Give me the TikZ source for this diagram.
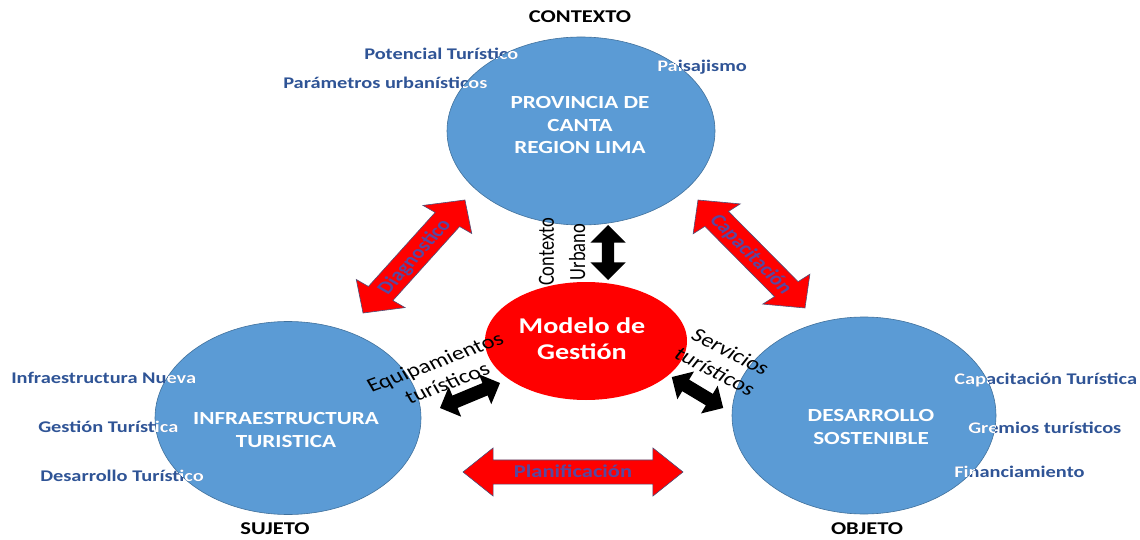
\documentclass[tikz,border=0pt]{standalone}
\usepackage{fontspec}
\setmainfont{Carlito}
\usetikzlibrary{shapes.geometric,shapes.arrows}
\definecolor{bubbleblue}{RGB}{91,155,213}
\definecolor{bubbleedge}{RGB}{65,113,156}
\definecolor{tagblue}{RGB}{47,84,150}
\definecolor{arrowink}{RGB}{88,72,160}
\definecolor{arrowedge}{RGB}{80,80,120}
\def\cliptag(#1)(#2)(#3:#4:#5)#6{\node[tagtxt] (#1) at (#2) {#6};
	\begin{scope}\clip (#3) ellipse [x radius=#4pt, y radius=#5pt];
	\node[tagtxt, text=white] (#1w) at (#2) {#6};\end{scope}}

\begin{document}
\begin{tikzpicture}[x=1pt, y=1pt,
		wide/.style={xscale=1.25},
		bubble/.style={ellipse, wide, fill=bubbleblue, draw=bubbleedge, line width=0.6pt, inner sep=0pt},
		bubbletxt/.style={wide, font=\bfseries\fontsize{18.5}{22.5}\selectfont, text=white, align=center, inner sep=0pt},
		poletxt/.style={wide, font=\bfseries\fontsize{18}{21}\selectfont, inner sep=0pt},
		tagtxt/.style={wide, font=\bfseries\fontsize{16.3}{19}\selectfont, text=tagblue, inner sep=0pt, anchor=west},
		linktxt/.style={wide, font=\fontsize{19.5}{23}\selectfont, align=center, inner sep=0pt},
		redarrow/.style={double arrow, wide, fill=red, draw=arrowedge, line width=0.6pt, double arrow head extend=12pt, inner xsep=2pt, inner ysep=6pt, text height=11.5pt, text depth=0pt, font=\bfseries\fontsize{18}{18}\selectfont, text=arrowink},
		blackarrow/.style={double arrow, fill=black, inner xsep=0pt, inner ysep=6.5pt, text height=0pt, text depth=0pt, double arrow head extend=9.5pt}]
		%%%%% START %%%%%
		
		\useasboundingbox (0,0) rectangle (1140,539);
		\fill[white] (0,0) rectangle (1140,539);
		
		\node[bubble, minimum width=214.4pt, minimum height=188pt] (ctx) at (581,408) {};
		\node[bubble, minimum width=212.8pt, minimum height=193pt] (suj) at (288,121) {};
		\node[bubble, minimum width=211.2pt, minimum height=197pt] (obj) at (864,123.5) {};
		\node[ellipse, wide, fill=red, minimum width=161.6pt, minimum height=118pt, inner sep=0pt] (mdg) at (586,198) {};
		
		\node[bubbletxt] (ctxtxt) at (580,414) {PROVINCIA DE\\CANTA\\REGION LIMA};
		\node[bubbletxt] (sujtxt) at (286,109) {INFRAESTRUCTURA\\TURISTICA};
		\node[bubbletxt] (objtxt) at (871,112) {DESARROLLO\\SOSTENIBLE};
		\node[bubbletxt, font=\bfseries\fontsize{22.5}{26}\selectfont] (mdgtxt) at (582,200) {Modelo de\\Gestión};
		
		\node[poletxt] (ctxpole) at (580,522) {CONTEXTO};
		\node[poletxt] (sujpole) at (275,10.5) {SUJETO};
		\node[poletxt] (objpole) at (867,10.5) {OBJETO};
		
		\cliptag(pot)(364,485)(581,408:134:94){Potencial Turístico}
		\cliptag(par)(283,456)(581,408:134:94){Parámetros urbanísticos}
		\cliptag(pai)(657,472)(581,408:134:94){Paisajismo}
		\cliptag(inf)(11,161)(288,121:133:96.5){Infraestructura Nueva}
		\cliptag(ges)(38,112)(288,121:133:96.5){Gestión Turística}
		\cliptag(des)(40,63)(288,121:133:96.5){Desarrollo Turístico}
		\cliptag(cap)(954,159)(864,123.5:132:98.5){Capacitación Turística}
		\cliptag(gre)(968,111)(864,123.5:132:98.5){Gremios turísticos}
		\cliptag(fin)(954,67)(864,123.5:132:98.5){Financiamiento}
		
		\node[redarrow, minimum height=139.4pt, rotate=54.2] (diag) at (414,282.5) {Diagnostico};
		\node[redarrow, minimum height=137.8pt, rotate=-51.6] (capa) at (751.5,285) {Capacitación};
		\node[redarrow, minimum height=176pt] (plan) at (573,67) {Planificación};
		
		\node[blackarrow, minimum height=55pt, rotate=90, double arrow head extend=11.5pt, inner ysep=6pt] (urb) at (608,286.5) {};
		\node[blackarrow, minimum height=65pt, rotate=22.6] (equ) at (470,143.5) {};
		\node[blackarrow, minimum height=60pt, rotate=-31] (ser) at (697.5,146.5) {};
		
		\node[linktxt, rotate=90, font=\fontsize{18.5}{25}\selectfont] (urbtxt) at (562,287) {Contexto\\Urbano};
		\node[linktxt, rotate=25] (equtxt) at (441,166.5) {Equipamientos\\turísticos};
		\node[linktxt, rotate=-32.4] (sertxt) at (723,177.5) {Servicios\\turísticos};
		
		%%%%% END %%%%%
	\end{tikzpicture}
\end{document}
